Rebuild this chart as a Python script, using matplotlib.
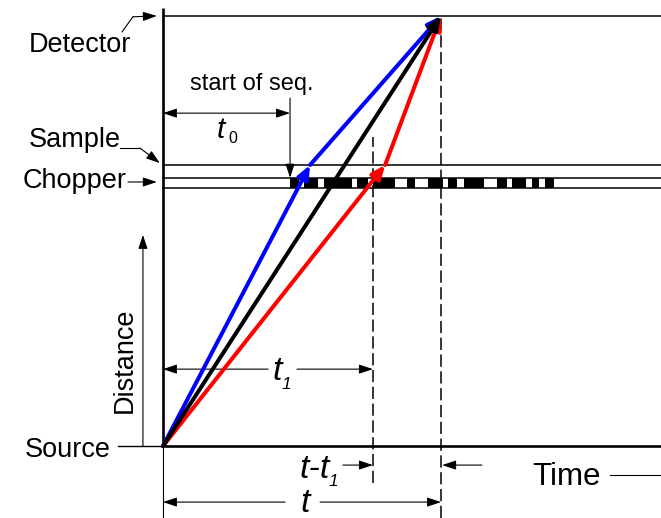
import matplotlib.pyplot as plt

plt.rcParams['font.family'] = ['Liberation Sans', 'DejaVu Sans']

# distance along the flight path (source = 0, detector = 1)
source_pos = 0.0
chopper_lo = 0.600
chopper_hi = 0.624
sample_pos = 0.6535
detector_pos = 1.0

# times (arrival of the reference neutron at the detector = 1)
t0 = 0.457      # start of chopper sequence
t1 = 0.755
t_det = 1.0

# neutron trajectories, (time, distance) vertices
blue_t = [0.0, 0.529, 1.0]
blue_d = [0.0, 0.6535, 1.0]
black_t = [0.0, 1.0]
black_d = [0.0, 1.0]
red_t = [0.0, 0.799, 1.0]
red_d = [0.0, 0.6535, 1.0]

# pseudo-random chopper sequence, closed intervals
chop_start = [0.457, 0.507, 0.579, 0.698, 0.755, 0.878, 0.953, 1.025, 1.083,
              1.201, 1.255, 1.327, 1.374]
chop_end = [0.489, 0.558, 0.680, 0.737, 0.835, 0.906, 1.007, 1.058, 1.155,
            1.237, 1.306, 1.353, 1.406]

X_MIN, X_MAX = -0.586, 1.791
Y_MIN, Y_MAX = -0.167, 1.037

fig = plt.figure(figsize=(6.61, 5.18), dpi=100)
ax = fig.add_axes([0, 0, 1, 1])
ax.set_xlim(X_MIN, X_MAX)
ax.set_ylim(Y_MIN, Y_MAX)
ax.axis('off')


def arrow(p, q, style='-|>', lw=0.8, color='k', hl=0.6, hw=0.2, scale=14, z=3):
    ax.annotate('', xy=q, xytext=p,
                arrowprops=dict(arrowstyle=f'{style},head_length={hl},head_width={hw}',
                                color=color, lw=lw, shrinkA=0, shrinkB=0,
                                mutation_scale=scale),
                zorder=z)


def trajectory(ts, ds, color):
    for i in range(len(ts) - 1):
        arrow((ts[i], ds[i]), (ts[i + 1], ds[i + 1]), lw=2.9, color=color,
              hl=0.4, hw=0.17, scale=20, z=5)


def sym(x, y, main, sub, xs, ys, size=24.5, sub_size=12.5, sub_italic=True):
    ax.text(x, y, main, fontsize=size, style='italic', va='baseline')
    ax.text(xs, ys, sub, fontsize=sub_size, va='baseline',
            style='italic' if sub_italic else 'normal')


# axes
ax.plot([0, 0], [source_pos, 1.019], color='k', lw=1.9, solid_capstyle='butt')
ax.plot([0, 0], [Y_MIN, source_pos], color='k', lw=0.8)
ax.plot([0, X_MAX], [source_pos, source_pos], color='k', lw=1.9)
ax.plot([-0.162, 0], [source_pos, source_pos], color='k', lw=1.0)

# detector, sample and chopper levels
for y in [detector_pos, sample_pos, chopper_lo, chopper_hi]:
    ax.plot([0, X_MAX], [y, y], color='k', lw=1.1)
ax.broken_barh([(s, e - s) for s, e in zip(chop_start, chop_end)],
               (chopper_lo, chopper_hi - chopper_lo), facecolor='k', zorder=2)

# dashed time markers
ax.plot([t1, t1], [-0.086, 0.719], color='k', lw=1.1, ls=(0, (8, 3)))
ax.plot([t_det, t_det], [Y_MIN, detector_pos], color='k', lw=1.1, ls=(0, (8, 3)))

# trajectories
trajectory(red_t, red_d, 'red')
trajectory(blue_t, blue_d, 'blue')
trajectory(black_t, black_d, 'black')

# level labels
fs = 19.5
ax.text(-0.482, 0.916, 'Detector', fontsize=fs, va='baseline')
ax.plot([-0.147, -0.108], [0.963, 0.998], color='k', lw=0.8)
arrow((-0.108, 0.998), (-0.022, 1.0))

ax.text(-0.482, 0.695, 'Sample', fontsize=fs, va='baseline')
ax.plot([-0.155, -0.083], [0.693, 0.693], color='k', lw=0.8)
arrow((-0.083, 0.693), (-0.011, 0.658))

ax.text(-0.504, 0.600, 'Chopper', fontsize=fs, va='baseline')
arrow((-0.126, 0.614), (-0.022, 0.614))

ax.text(-0.496, -0.026, 'Source', fontsize=fs, va='baseline')

ax.text(-0.137, 0.2, 'Distance', fontsize=fs, rotation=90, ha='center', va='center')
arrow((-0.072, source_pos), (-0.072, 0.491))

# chopper sequence start and t0
ax.text(0.320, 0.828, 'start of seq.', fontsize=17, ha='center', va='baseline')
arrow((t0, 0.809), (t0, chopper_hi))
arrow((0, 0.774), (t0, 0.774), style='<|-|>')
sym(0.194, 0.716, 't', '0', 0.236, 0.705, size=21.5, sub_size=11.5, sub_italic=False)

# t1, line broken around its label
arrow((0.378, 0.179), (0, 0.179))
arrow((0.482, 0.179), (t1, 0.179))
sym(0.392, 0.1535, 't', '1', 0.428, 0.1326)

# t - t1
sym(0.490, -0.074, 't-t', '1', 0.596, -0.093)
arrow((0.647, -0.044), (t1, -0.044))
arrow((1.147, -0.044), (t_det + 0.004, -0.044))

# t, line broken around its label
arrow((0.439, -0.130), (0, -0.130))
arrow((0.565, -0.130), (t_det, -0.130))
ax.text(0.494, -0.153, 't', fontsize=24.5, style='italic', va='baseline')

# time axis label
ax.text(1.327, -0.091, 'Time', fontsize=22.5, va='baseline')
ax.plot([1.608, X_MAX], [-0.067, -0.067], color='k', lw=0.8)

fig.savefig('out.png', dpi=100)
